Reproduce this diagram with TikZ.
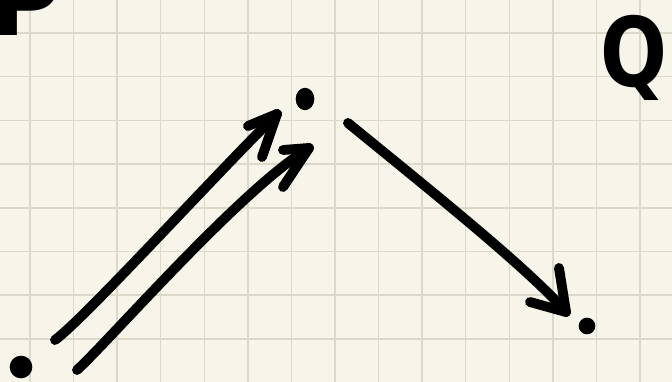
\documentclass[tikz,border=0pt]{standalone}
\usepackage{fontspec}
\newfontfamily\handfont{DejaVu Sans}

\definecolor{paper}{HTML}{F7F5E9}
\definecolor{gridline}{HTML}{DCD9CB}
\definecolor{ink}{HTML}{000000}

\begin{document}
\begin{tikzpicture}[
  x={(0.75pt,0pt)}, y={(0pt,-0.75pt)},
  line join=round, line cap=round,
  stroke/.style={ink, line width=7.4pt},
  rule/.style={gridline, line width=1.1pt},
  dot/.style={circle, fill=ink, inner sep=0pt},
  letter/.style={inner sep=0pt, text=ink, font=\handfont\bfseries\fontsize{72}{72}\selectfont},
]

% ── the squared paper ─────────────────────────────────────────────────────
\clip (0,0) rectangle (672,382);
\fill[paper] (0,0) rectangle (672,382);
\foreach \i in {0,...,14} {
  \draw[rule] (30+43.57*\i,0) -- (30+43.57*\i,382);   % vertical
}
\foreach \j in {0,...,7} {
  \draw[rule] (0,33+43.7*\j) -- (672,33+43.7*\j);     % horizontal
}

% ── the three points and their letters ────────────────────────────────────
\node[dot, minimum size=17pt] (start) at (21,367) {};
\node[dot, minimum size=14pt, yscale=1.2] (apex) at (305,99) {};
\node[dot, minimum size=12.5pt] (end) at (587,326) {};

\node[letter, anchor=base west] (labelP) at (-10,36) {P};
\node[letter, anchor=base, xscale=0.82] (labelQ) at (634,86) {Q};

% ── the two strokes up to the apex ────────────────────────────────────────
\coordinate (upperfrom) at (55,340);
\coordinate (uppertip)  at (277,114);
\coordinate (lowerfrom) at (77,370);
\coordinate (lowertip)  at (309,148);

\draw[stroke] (upperfrom) .. controls (85,318) and (215,175) .. (uppertip);
\draw[stroke] (uppertip) -- ++(-29,12);               % barb, left
\draw[stroke] (uppertip) -- ++(-15,43);               % barb, down

\draw[stroke] (lowerfrom) .. controls (110,340) and (240,190) .. (lowertip);
\draw[stroke] (lowertip) -- ++(-26,2);                % barb, left
\draw[stroke] (lowertip) -- ++(-26,39);               % barb, down

% ── the stroke down to the right ──────────────────────────────────────────
\coordinate (rightfrom) at (348,123);
\coordinate (righttip)  at (566,312);

\draw[stroke] (rightfrom) .. controls (430,190) and (530,270) .. (righttip);
\draw[stroke] (righttip) -- ++(-36,-10);              % barb, left
\draw[stroke] (righttip) -- ++(-7,-44);               % barb, up

\end{tikzpicture}
\end{document}
